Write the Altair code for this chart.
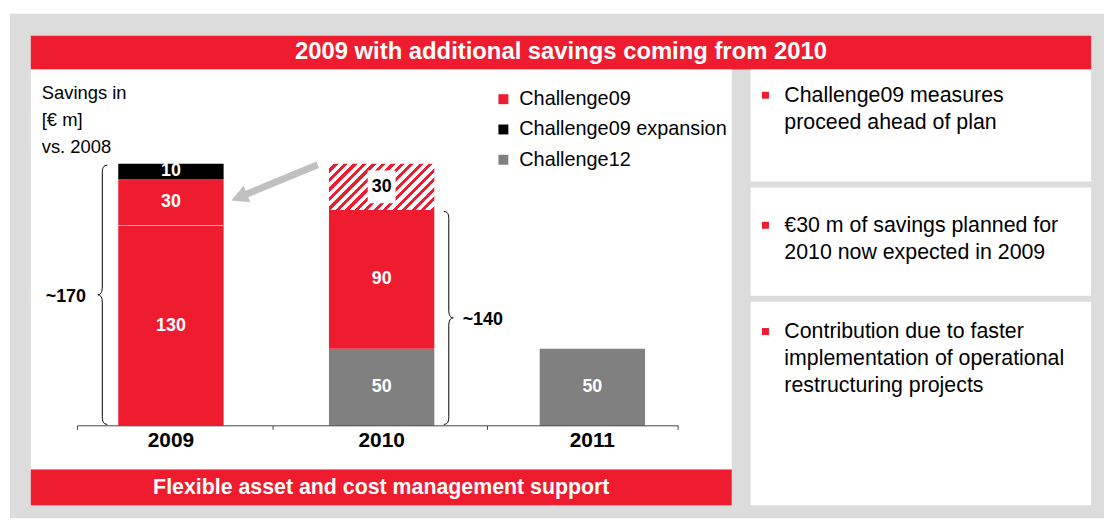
import math
import altair as alt
import pandas as pd

# ---------------- data ----------------
years = ["2009", "2010", "2011"]
seg_year = ["2009", "2009", "2009", "2010", "2010", "2010", "2011"]
seg_series = ["Challenge09", "Challenge09", "Challenge09 expansion", "Challenge12",
              "Challenge09", "Challenge09 (moved to 2009)", "Challenge12"]
seg_value = [130, 30, 10, 50, 90, 30, 50]
legend_names = ["Challenge09", "Challenge09 expansion", "Challenge12"]
legend_colors = ["#EE1C2E", "#000000", "#808080"]
brace_year = ["2009", "2010"]
brace_total = [170, 140]
brace_text = ["~170", "~140"]
title_text = "2009 with additional savings coming from 2010"
footer_text = "Flexible asset and cost management support"
unit_lines = ["Savings in", "[€ m]", "vs. 2008"]
bullet_lines = [
    ["Challenge09 measures", "proceed ahead of plan"],
    ["€30 m of savings planned for", "2010 now expected in 2009"],
    ["Contribution due to faster", "implementation of operational", "restructuring projects"],
]

# ---------------- style / layout ----------------
RED = "#EE1C2E"
BG = "#DCDCDC"
FONT = "Liberation Sans"
W, H = 1104, 512
Y_BASE, Y_TOP, Y_MAX = 419, 155, 170
PPU = (Y_BASE - Y_TOP) / Y_MAX
X_RANGE = [58, 694.75]
STEP = (X_RANGE[1] - X_RANGE[0]) / 3.0
BANDW = STEP * 0.5

xscale = alt.Scale(domain=years, range=X_RANGE, paddingInner=0.5, paddingOuter=0.25)
yscale = alt.Scale(domain=[0, Y_MAX], range=[Y_BASE, Y_TOP], nice=False, zero=True)
one = alt.Data(values=[{"k": 1}])

# stacked segments
rows, cum = [], {}
for yr, s, v in zip(seg_year, seg_series, seg_value):
    st = cum.get(yr, 0)
    en = st + v
    cum[yr] = en
    rows.append({"year": yr, "series": s, "value": v, "start": st, "end": en,
                 "mid": (st + en) / 2, "label": str(v)})
seg = pd.DataFrame(rows)
hatched_name = seg_series[5]
solid = seg[seg.series != hatched_name]
hatched = seg[seg.series == hatched_name]
sep = solid[(solid.year == "2009") & (solid.series == "Challenge09") & (solid.start > 0)]


def box(x0, y0, x1, y1, color):
    return alt.Chart(one).mark_rect(color=color).encode(
        x=alt.value(x0), x2=alt.value(x1), y=alt.value(y0), y2=alt.value(y1))


def txt(x, y, text, size, bold=False, color="black", align="left", lh=None):
    kw = dict(font=FONT, fontSize=size, fontWeight="bold" if bold else "normal",
              color=color, align=align, baseline="middle")
    if lh:
        kw["lineHeight"] = lh
    return alt.Chart(one).mark_text(**kw).encode(
        x=alt.value(x), y=alt.value(y), text=alt.value(text))


def rule(x0, y0, x1, y1, color, w=1):
    return alt.Chart(one).mark_rule(color=color, strokeWidth=w, strokeCap="butt").encode(
        x=alt.value(x0), x2=alt.value(x1), y=alt.value(y0), y2=alt.value(y1))


def f(v):
    return f"{v:.4f}"


def brace_path(span_px, reach_px, lip_px, curl_px, d):
    s = span_px / 2.0
    r, l, e = reach_px / s, lip_px / s, curl_px / s
    return (f"M {f(-d*l)} -1 C {f(-d*l*0.2)} -1 0 {f(-1+e*0.35)} 0 {f(-1+e)} "
            f"L 0 {f(-e)} C 0 {f(-e*0.35)} {f(d*r*0.35)} 0 {f(d*r)} 0 "
            f"C {f(d*r*0.35)} 0 0 {f(e*0.35)} 0 {f(e)} "
            f"L 0 {f(1-e)} C 0 {f(1-e*0.35)} {f(-d*l*0.2)} 1 {f(-d*l)} 1")


layers = []
# background and panels
layers.append(box(2, 4, W, H, BG))
layers.append(box(23, 26, 1091, 60, RED))
layers.append(box(23, 60, 729, 463, "white"))
layers.append(box(23, 463, 729, 499, RED))
layers.append(box(748, 60, 1091, 173, "white"))
layers.append(box(748, 179, 1091, 288, "white"))
layers.append(box(748, 294, 1091, 499, "white"))
layers.append(txt(557, 43, title_text, 24, True, "white", "center"))
layers.append(txt(376, 482, footer_text, 21.5, True, "white", "center"))
layers.append(txt(34, 84, unit_lines, 18.5, lh=27))

# bars
bars = alt.Chart(solid).mark_bar().encode(
    x=alt.X("year:N", scale=xscale, axis=None),
    y=alt.Y("start:Q", scale=yscale, axis=None),
    y2="end:Q",
    color=alt.Color("series:N",
                    scale=alt.Scale(domain=legend_names, range=legend_colors),
                    legend=alt.Legend(orient="none", legendX=489, legendY=80, title=None,
                                      symbolType="square", symbolSize=100,
                                      symbolStrokeWidth=0, symbolOpacity=1,
                                      labelFont=FONT, labelFontSize=20, labelColor="black",
                                      labelOffset=6, labelLimit=400, rowPadding=10.5,
                                      padding=0)),
)
layers.append(bars)

# hatched segment (diagonal stripes through a hard-stop gradient)
hw, hh = BANDW, 30 * PPU
k = (hw + hh) / (hw * hw + hh * hh)
n_str = 16
stops = []
for i in range(n_str):
    a = i / n_str
    b = (i + 0.55) / n_str
    c = (i + 1) / n_str
    stops += [alt.GradientStop(offset=a, color="white"), alt.GradientStop(offset=b, color="white"),
              alt.GradientStop(offset=b, color=RED), alt.GradientStop(offset=c, color=RED)]
grad = alt.LinearGradient(gradient="linear", stops=stops, x1=0, y1=0, x2=k * hw, y2=k * hh)
layers.append(alt.Chart(hatched).mark_bar(color=grad).encode(
    x=alt.X("year:N", scale=xscale, axis=None),
    y=alt.Y("start:Q", scale=yscale, axis=None), y2="end:Q"))

# thin separator inside 2009 bar
layers.append(alt.Chart(sep).mark_tick(color="#F7A8AD", thickness=1, size=BANDW, opacity=1).encode(
    x=alt.X("year:N", scale=xscale, axis=None),
    y=alt.Y("start:Q", scale=yscale, axis=None)))

# segment labels
layers.append(alt.Chart(solid).mark_text(font=FONT, fontSize=18, fontWeight="bold",
                                         color="white", baseline="middle").encode(
    x=alt.X("year:N", scale=xscale, axis=None),
    y=alt.Y("mid:Q", scale=yscale, axis=None),
    text="label:N"))
box_path = "M -0.85 -1 L 0.85 -1 L 0.85 1 L -0.85 1 Z"
layers.append(alt.Chart(hatched).mark_point(shape=box_path, size=33 * 33, filled=True,
                                            color="white", opacity=1, strokeWidth=0).encode(
    x=alt.X("year:N", scale=xscale, axis=None),
    y=alt.Y("mid:Q", scale=yscale, axis=None)))
layers.append(alt.Chart(hatched).mark_text(font=FONT, fontSize=18, fontWeight="bold",
                                           color="black", baseline="middle").encode(
    x=alt.X("year:N", scale=xscale, axis=None),
    y=alt.Y("mid:Q", scale=yscale, axis=None),
    text="label:N"))

# axis baseline, ticks, year labels
AX = "#444444"
layers.append(rule(70, Y_BASE, 675, Y_BASE, AX))
for tx in [70, 267, 483, 675]:
    layers.append(rule(tx, Y_BASE, tx, Y_BASE + 4, AX))
layers.append(alt.Chart(pd.DataFrame({"year": years})).mark_text(
    font=FONT, fontSize=21, fontWeight="bold", color="black", baseline="middle").encode(
    x=alt.X("year:N", scale=xscale, axis=None), y=alt.value(434), text="year:N"))

# braces
brace_x = [95, 444]
brace_dir = [-1, 1]
brace_lab_x = [38, 458]
for yr, tot, lab, bx, d, lx in zip(brace_year, brace_total, brace_text, brace_x, brace_dir, brace_lab_x):
    span = tot * PPU - 3
    bd = alt.Data(values=[{"year": yr, "mid": tot / 2.0, "label": lab}])
    layers.append(alt.Chart(bd).mark_point(shape=brace_path(span, 4.5, 5, 8, d), size=span * span,
                                           filled=False, color="black", opacity=1,
                                           strokeWidth=1).encode(
        x=alt.value(bx), y=alt.Y("mid:Q", scale=yscale, axis=None)))
    layers.append(alt.Chart(bd).mark_text(font=FONT, fontSize=18, fontWeight="bold", color="black",
                                          align="left", baseline="middle", dy=2).encode(
        x=alt.value(lx), y=alt.Y("mid:Q", scale=yscale, axis=None), text="label:N"))

# arrow from 2010 hatched part to 2009
ARROW = "#C0C0C0"
sx, sy = 312, 156
tx_, ty_ = 225, 192
L = math.hypot(tx_ - sx, ty_ - sy)
dx, dy = (tx_ - sx) / L, (ty_ - sy) / L
head_s = 8.5
cx, cy = tx_ - dx * head_s, ty_ - dy * head_s
ang = math.degrees(math.atan2(dx, -dy)) % 360
layers.append(rule(sx, sy, cx, cy, ARROW, 7))
layers.append(alt.Chart(one).mark_point(shape="M 0 -1 L 1.05 1 L -1.05 1 Z", size=(2 * head_s) ** 2,
                                        filled=True, color=ARROW, opacity=1, strokeWidth=0,
                                        angle=ang).encode(x=alt.value(cx), y=alt.value(cy)))

# right-hand bullet panels
bullet_y = [86, 217, 324]
text_y = [87, 218, 325]
for lines, by, ty in zip(bullet_lines, bullet_y, text_y):
    layers.append(alt.Chart(one).mark_square(size=49, color=RED, opacity=1).encode(
        x=alt.value(763), y=alt.value(by)))
    layers.append(txt(782, ty, lines, 21.5, lh=27))

chart = alt.layer(*layers).properties(
    width=W, height=H, padding=0, autosize=alt.AutoSizeParams(type="none"),
    background="white"
).configure_view(stroke=None)

chart.save("out.html", embed_options={"renderer": "svg", "actions": False})
